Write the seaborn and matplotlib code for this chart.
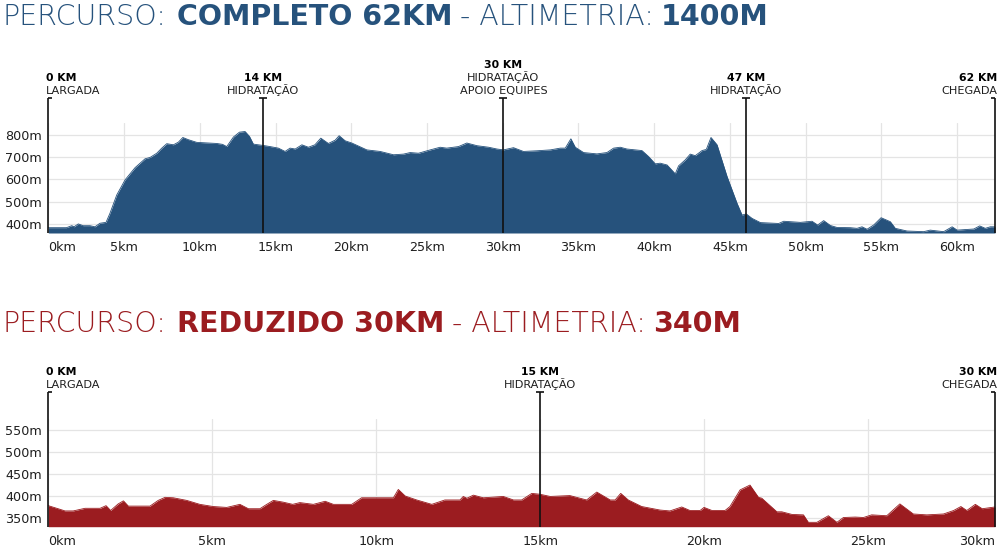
import matplotlib
matplotlib.use("Agg")
import matplotlib.pyplot as plt
import matplotlib.transforms as mtransforms
import seaborn as sns
import numpy as np

# ---------------- DATA ----------------
km_completo = [0, 1.2, 1.55, 1.7, 1.98, 2.3, 2.75, 3.08, 3.41, 3.81, 4.07, 4.52, 5.07, 5.73, 6.39, 6.72,
               7.16, 7.49, 7.82, 8.26, 8.59, 8.88, 9.25, 9.8, 11.12, 11.5, 11.78, 12.22, 12.62, 12.99,
               13.28, 13.54, 14.2, 14.64, 15.19, 15.63, 15.96, 16.3, 16.74, 17.17, 17.6, 17.99, 18.49,
               18.94, 19.2, 19.6, 20.04, 21.03, 21.91, 22.79, 23.45, 23.89, 24.44, 25.21, 25.87, 26.3,
               27.08, 27.63, 28.3, 29.07, 29.62, 30.05, 30.71, 31.37, 32.25, 33.14, 33.8, 34.13, 34.5,
               34.79, 35.34, 36.22, 36.88, 37.32, 37.76, 38.2, 39.19, 39.63, 40.07, 40.4, 40.85, 41.39,
               41.61, 42.05, 42.38, 42.71, 43.16, 43.44, 43.75, 44.15, 44.81, 45.47, 45.8, 46.08, 46.46,
               47.01, 48.22, 48.55, 49.65, 50.42, 50.79, 51.19, 51.63, 52.07, 52.95, 53.39, 53.72, 54.05,
               54.49, 54.98, 55.59, 55.92, 56.69, 57.79, 58.22, 59.11, 59.67, 60.0, 61.1, 61.49, 61.86,
               62.19, 62.5]
alt_completo = [382, 382, 391, 386, 399, 391, 391, 386, 402, 406, 447, 530, 598, 653, 693, 699,
                718, 741, 761, 756, 768, 789, 779, 767, 762, 758, 748, 791, 813, 816,
                794, 759, 753, 748, 741, 726, 741, 737, 756, 745, 756, 786, 762,
                777, 797, 774, 764, 733, 726, 711, 714, 721, 718, 733, 745, 741,
                748, 764, 752, 745, 737, 733, 743, 726, 729, 733, 741, 741, 783,
                745, 721, 715, 721, 741, 745, 737, 730, 703, 670, 673, 665, 625,
                661, 688, 714, 707, 730, 735, 789, 756, 613, 492, 439, 444, 424,
                405, 401, 411, 406, 411, 394, 414, 392, 383, 382, 379, 386, 375,
                394, 427, 409, 379, 367, 364, 371, 364, 386, 371, 376, 390, 379,
                386, 386]

km_reduzido = [0, 0.3, 0.51, 0.76, 1.12, 1.58, 1.76, 1.9, 2.13, 2.29, 2.44, 3.1, 3.35, 3.56, 3.81,
               4.22, 4.62, 5.03, 5.44, 5.84, 6.1, 6.45, 6.66, 6.86, 7.16, 7.45, 7.67, 8.08, 8.44, 8.69,
               9.25, 9.55, 10.52, 10.67, 10.88, 11.23, 11.69, 12.09, 12.55, 12.65, 12.76, 12.96, 13.26,
               13.87, 14.18, 14.43, 14.74, 14.99, 15.3, 15.9, 16.41, 16.72, 17.13, 17.28, 17.45, 17.68,
               18.09, 18.65, 18.95, 19.31, 19.56, 19.87, 19.99, 20.23, 20.63, 20.78, 21.09, 21.39,
               21.65, 21.75, 22.21, 22.36, 22.67, 23.02, 23.17, 23.43, 23.78, 24.04, 24.24, 24.6,
               24.85, 25.1, 25.56, 25.96, 26.37, 26.78, 27.29, 27.6, 27.82, 28.0, 28.26, 28.47, 28.86]
alt_reduzido = [378, 371, 366, 366, 372, 372, 378, 367, 382, 389, 377, 377, 390, 397, 396,
                390, 381, 376, 374, 381, 371, 371, 381, 390, 386, 381, 385, 381, 388, 381,
                381, 396, 396, 415, 400, 391, 381, 391, 391, 399, 395, 402, 396,
                399, 391, 391, 406, 404, 399, 401, 391, 409, 391, 391, 406, 391,
                376, 368, 366, 375, 367, 367, 374, 367, 367, 376, 414, 425,
                397, 395, 364, 364, 358, 357, 340, 340, 355, 340, 351, 352,
                351, 357, 355, 382, 359, 357, 359, 367, 376, 367, 381, 371, 375]

xticks_completo = [0, 5, 10, 15, 20, 25, 30, 35, 40, 45, 50, 55, 60]
xlabels_completo = ["0km", "5km", "10km", "15km", "20km", "25km", "30km", "35km", "40km",
                    "45km", "50km", "55km", "60km"]
yticks_completo = [400, 500, 600, 700, 800]
ylabels_completo = ["400m", "500m", "600m", "700m", "800m"]

xticks_reduzido = [0, 5, 10, 15, 20, 25, 28.86]
xlabels_reduzido = ["0km", "5km", "10km", "15km", "20km", "25km", "30km"]
yticks_reduzido = [350, 400, 450, 500, 550]
ylabels_reduzido = ["350m", "400m", "450m", "500m", "550m"]

marks_completo_km = [0, 14.2, 30.05, 46.08, 62.5]
marks_completo_title = ["0 KM", "14 KM", "30 KM", "47 KM", "62 KM"]
marks_completo_desc = [["LARGADA"], ["HIDRATAÇÃO"], ["HIDRATAÇÃO", "APOIO EQUIPES"],
                       ["HIDRATAÇÃO"], ["CHEGADA"]]

marks_reduzido_km = [0, 15, 28.86]
marks_reduzido_title = ["0 KM", "15 KM", "30 KM"]
marks_reduzido_desc = [["LARGADA"], ["HIDRATAÇÃO"], ["CHEGADA"]]

title_completo = [("PERCURSO:", False), ("COMPLETO 62KM", True), ("- ALTIMETRIA:", False), ("1400M", True)]
title_reduzido = [("PERCURSO:", False), ("REDUZIDO 30KM", True), ("- ALTIMETRIA:", False), ("340M", True)]

BLUE = "#26527c"
RED = "#9b1c20"
TEXT = "#1e1e1e"

# ---------------- STYLE ----------------
sns.set_theme(style="white")
plt.rcParams["font.family"] = ["DejaVu Sans"]

W, H = 1000, 556
fig = plt.figure(figsize=(W / 100, H / 100), dpi=100)

ax1 = fig.add_axes([48.3 / W, 1 - 233 / H, 946.7 / W, 109.7 / H])
ax2 = fig.add_axes([48.3 / W, 1 - 526.7 / H, 946.7 / W, 107.4 / H])


def draw_profile(ax, km, alt, color, xlim, ylim, xt, xl, yt, yl, last_right):
    ax.grid(True, color="#e4e4e4", lw=0.9, zorder=0)
    ax.set_axisbelow(True)
    ax.fill_between(km, alt, ylim[0], color=color, lw=0, zorder=2)
    sns.lineplot(x=km, y=alt, ax=ax, color=color, lw=0.6, estimator=None, sort=False, zorder=3)
    ax.set_xlim(*xlim)
    ax.set_ylim(*ylim)
    ax.set_xticks(xt)
    ax.set_xticklabels(xl)
    ax.set_yticks(yt)
    ax.set_yticklabels(yl)
    ax.set_xlabel("")
    ax.set_ylabel("")
    for s in ax.spines.values():
        s.set_visible(False)
    ax.tick_params(axis="both", length=0, labelsize=9.2, labelcolor=TEXT)
    ax.tick_params(axis="x", pad=6)
    ax.tick_params(axis="y", pad=4.5)
    labs = ax.get_xticklabels()
    labs[0].set_ha("left")
    if last_right:
        labs[-1].set_ha("right")


def draw_marks(ax, kms, titles, descs, xlim, cap_frac):
    trans = mtransforms.blended_transform_factory(ax.transData, ax.transAxes)
    axw_px = ax.get_position().width * W
    half = 4.0 * (xlim[1] - xlim[0]) / axw_px
    n = len(kms)
    for i, (k, t, d) in enumerate(zip(kms, titles, descs)):
        ax.plot([k, k], [0, cap_frac], transform=trans, color="#111111", lw=1.2,
                clip_on=False, zorder=5, solid_capstyle="butt")
        if i == 0:
            x0, x1, ha, dx = k, k + half, "left", -2
        elif i == n - 1:
            x0, x1, ha, dx = k - half, k, "right", 2
        else:
            x0, x1, ha, dx = k - half, k + half, "center", 0
        ax.plot([x0, x1], [cap_frac, cap_frac], transform=trans, color="#111111", lw=1.2,
                clip_on=False, zorder=5, solid_capstyle="butt")
        lines = list(d)
        base = 4
        for j, line in enumerate(reversed(lines)):
            ax.annotate(line, xy=(k, cap_frac), xycoords=trans, xytext=(dx, base + 13 * j),
                        textcoords="offset pixels", ha=ha, va="baseline", fontsize=8.1,
                        color=TEXT, annotation_clip=False)
        ax.annotate(t, xy=(k, cap_frac), xycoords=trans, xytext=(dx, base + 13 * len(lines)),
                    textcoords="offset pixels", ha=ha, va="baseline", fontsize=7.8,
                    fontweight="bold", color="#000000", annotation_clip=False)


xlim1 = (0, 62.5)
ylim1 = (358, 853)
xlim2 = (0, 28.86)
ylim2 = (330, 575)

draw_profile(ax1, km_completo, alt_completo, BLUE, xlim1, ylim1, xticks_completo, xlabels_completo,
             yticks_completo, ylabels_completo, False)
draw_profile(ax2, km_reduzido, alt_reduzido, RED, xlim2, ylim2, xticks_reduzido, xlabels_reduzido,
             yticks_reduzido, ylabels_reduzido, True)

draw_marks(ax1, marks_completo_km, marks_completo_title, marks_completo_desc, xlim1, (233 - 98) / 109.7)
draw_marks(ax2, marks_reduzido_km, marks_reduzido_title, marks_reduzido_desc, xlim2, (526.7 - 392.3) / 107.4)


def draw_title(parts, base_px, color):
    renderer = fig.canvas.get_renderer()
    x_px = 3.0
    gaps = [10, 8, 7, 0]
    for (txt, bold), gap in zip(parts, gaps):
        t = fig.text(x_px / W, 1 - base_px / H, txt, fontsize=20.5,
                     fontweight="bold" if bold else "light", color=color,
                     ha="left", va="baseline")
        bb = t.get_window_extent(renderer=renderer)
        x_px = bb.x1 + gap


draw_title(title_completo, 25, BLUE)
draw_title(title_reduzido, 332, RED)

fig.savefig("out.png", dpi=100)
